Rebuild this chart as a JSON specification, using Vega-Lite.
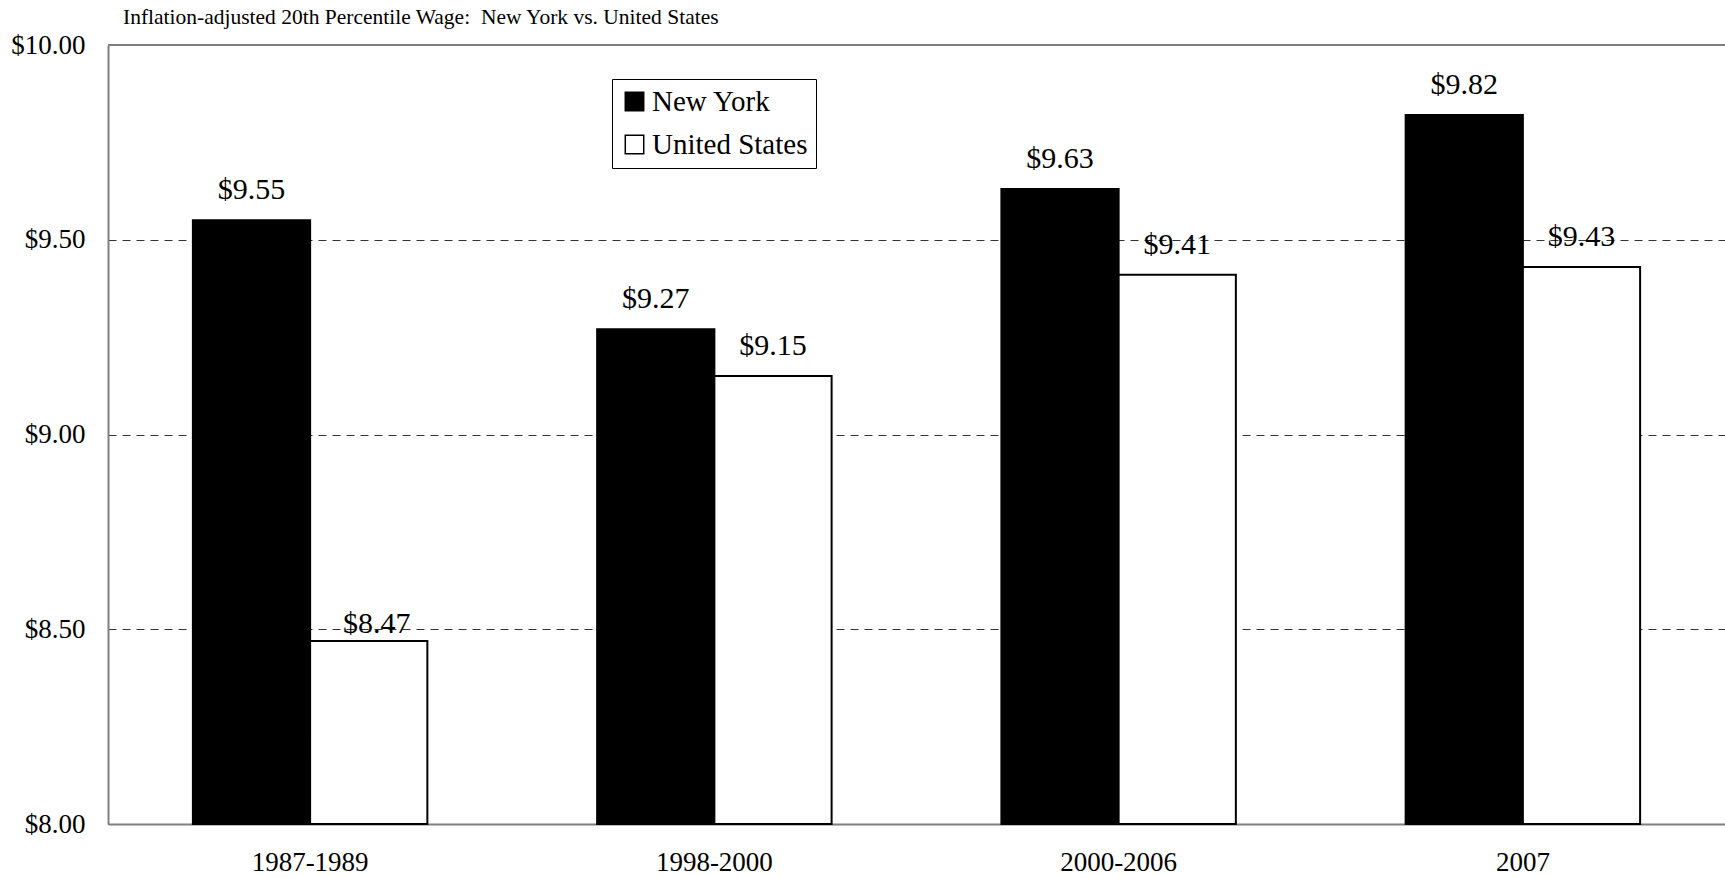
{
  "$schema": "https://vega.github.io/schema/vega-lite/v6.json",
  "width": 1617,
  "height": 779,
  "autosize": {"type": "none"},
  "padding": {"left": 108, "top": 45, "right": 0, "bottom": 54},
  "background": "white",
  "view": {"stroke": null},
  "config": {
    "font": "Liberation Serif",
    "axis": {"labelFont": "Liberation Serif", "labelColor": "black", "ticks": false, "domainColor": "#7f7f7f", "domainWidth": 2},
    "legend": {"labelFont": "Liberation Serif"}
  },
  "title": {
    "text": "Inflation-adjusted 20th Percentile Wage:\u00a0 New York vs. United States",
    "anchor": "start",
    "frame": "group",
    "dx": 15,
    "dy": 22,
    "offset": 3,
    "baseline": "bottom",
    "fontSize": 21.5,
    "fontWeight": "normal",
    "font": "Liberation Serif",
    "color": "black"
  },
  "data": {
    "values": [
      {"period": "1987-1989", "series": "New York", "value": 9.55},
      {"period": "1987-1989", "series": "United States", "value": 8.47},
      {"period": "1998-2000", "series": "New York", "value": 9.27},
      {"period": "1998-2000", "series": "United States", "value": 9.15},
      {"period": "2000-2006", "series": "New York", "value": 9.63},
      {"period": "2000-2006", "series": "United States", "value": 9.41},
      {"period": "2007", "series": "New York", "value": 9.82},
      {"period": "2007", "series": "United States", "value": 9.43}
    ]
  },
  "encoding": {
    "x": {
      "field": "period",
      "type": "nominal",
      "sort": null,
      "title": null,
      "scale": {"paddingInner": 0.42, "paddingOuter": 0.21},
      "axis": {"labelAngle": 0, "labelFontSize": 27, "labelPadding": 25}
    },
    "xOffset": {"field": "series", "type": "nominal", "scale": {"paddingInner": 0}},
    "y": {
      "field": "value",
      "type": "quantitative",
      "title": null,
      "scale": {"domain": [8, 10], "zero": false, "nice": false},
      "axis": {
        "values": [8, 8.5, 9, 9.5, 10],
        "format": "$.2f",
        "labelFontSize": 27,
        "labelPadding": 23,
        "grid": true,
        "gridColor": "#333333",
        "gridDash": [8, 6],
        "gridWidth": 1
      }
    }
  },
  "layer": [
    {
      "mark": {"type": "bar", "stroke": "black", "strokeWidth": 2},
      "encoding": {
        "y2": {"datum": 8},
        "fill": {
          "field": "series",
          "type": "nominal",
          "scale": {"domain": ["New York", "United States"], "range": ["black", "white"]},
          "legend": {
            "title": null,
            "orient": "none",
            "legendX": 504,
            "legendY": 34,
            "symbolType": "square",
            "symbolSize": 340,
            "symbolStrokeColor": "black",
            "symbolStrokeWidth": 1.5,
            "symbolOpacity": 1,
            "labelFontSize": 29,
            "labelColor": "black",
            "labelOffset": 3,
            "rowPadding": 13,
            "padding": 8,
            "strokeColor": "black",
            "fillColor": "white"
          }
        }
      }
    },
    {
      "transform": [{"filter": "datum.value >= 8.5"}],
      "mark": {"type": "text", "baseline": "alphabetic", "dy": -21, "fontSize": 30, "color": "black"},
      "encoding": {
        "text": {"field": "value", "type": "quantitative", "format": "$.2f"}
      }
    },
    {
      "transform": [{"filter": "datum.value < 8.5"}],
      "mark": {"type": "text", "baseline": "alphabetic", "dy": -8, "dx": 8, "fontSize": 30, "color": "black"},
      "encoding": {
        "text": {"field": "value", "type": "quantitative", "format": "$.2f"}
      }
    },
    {
      "mark": {"type": "rule", "color": "#7f7f7f", "strokeWidth": 2},
      "encoding": {"y": {"datum": 10}, "x": null, "xOffset": null}
    }
  ]
}
